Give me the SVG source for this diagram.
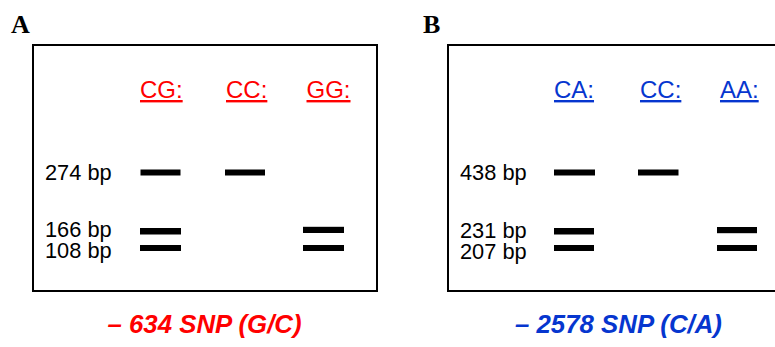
<svg xmlns="http://www.w3.org/2000/svg" width="775" height="347" viewBox="0 0 775 347">
<style>
.panel{font-family:"Liberation Serif",serif;font-weight:bold;font-size:26px;fill:#000}
.frame{fill:none;stroke:#000;stroke-width:2}
.bp{font-family:"Liberation Sans",Arial,sans-serif;font-size:21.8px;fill:#000}
.gt{font-family:"Liberation Sans",Arial,sans-serif;font-size:24px;text-decoration:underline}
.title{font-family:"Liberation Sans",Arial,sans-serif;font-size:25.8px;font-weight:bold;font-style:italic}
.red{fill:#ff0000}
.blue{fill:#0636cf}
.band{fill:#000}
</style>
<rect width="775" height="347" fill="#fff"/>
<g id="panelA">
<text class="panel" x="11" y="33">A</text>
<rect class="frame" x="33" y="45" width="344" height="246"/>
<g id="headersA">
<text class="gt red" x="140" y="98">CG:</text>
<text class="gt red" x="226" y="98">CC:</text>
<text class="gt red" x="306.5" y="98">GG:</text>
</g>
<g id="labelsA">
<text class="bp" x="45" y="180">274 bp</text>
<text class="bp" x="45" y="236.5">166 bp</text>
<text class="bp" x="45" y="257.5">108 bp</text>
</g>
<g id="bandsA">
<rect class="band" x="140.5" y="169.5" width="40" height="6"/>
<rect class="band" x="225" y="169.5" width="40" height="6"/>
<rect class="band" x="140" y="228" width="41" height="6.5"/>
<rect class="band" x="140" y="245" width="41" height="6"/>
<rect class="band" x="303" y="226.8" width="41" height="6.2"/>
<rect class="band" x="303" y="245" width="41" height="6"/>
</g>
<text class="title red" x="107.5" y="333">– 634 SNP (G/C)</text>
</g>
<g id="panelB">
<text class="panel" x="423" y="33">B</text>
<rect class="frame" x="448" y="45" width="340" height="246"/>
<g id="headersB">
<text class="gt blue" x="554" y="98">CA:</text>
<text class="gt blue" x="640" y="98">CC:</text>
<text class="gt blue" x="720" y="98">AA:</text>
</g>
<g id="labelsB">
<text class="bp" x="460" y="180">438 bp</text>
<text class="bp" x="460" y="237.5">231 bp</text>
<text class="bp" x="460" y="259">207 bp</text>
</g>
<g id="bandsB">
<rect class="band" x="554" y="169.5" width="41" height="6"/>
<rect class="band" x="638" y="169.5" width="40.5" height="6"/>
<rect class="band" x="554" y="228" width="40" height="6.5"/>
<rect class="band" x="554" y="245" width="40" height="6"/>
<rect class="band" x="717" y="227" width="40" height="6.2"/>
<rect class="band" x="717" y="245" width="40" height="6"/>
</g>
<text class="title blue" x="515" y="333">– 2578 SNP (C/A)</text>
</g>
</svg>
